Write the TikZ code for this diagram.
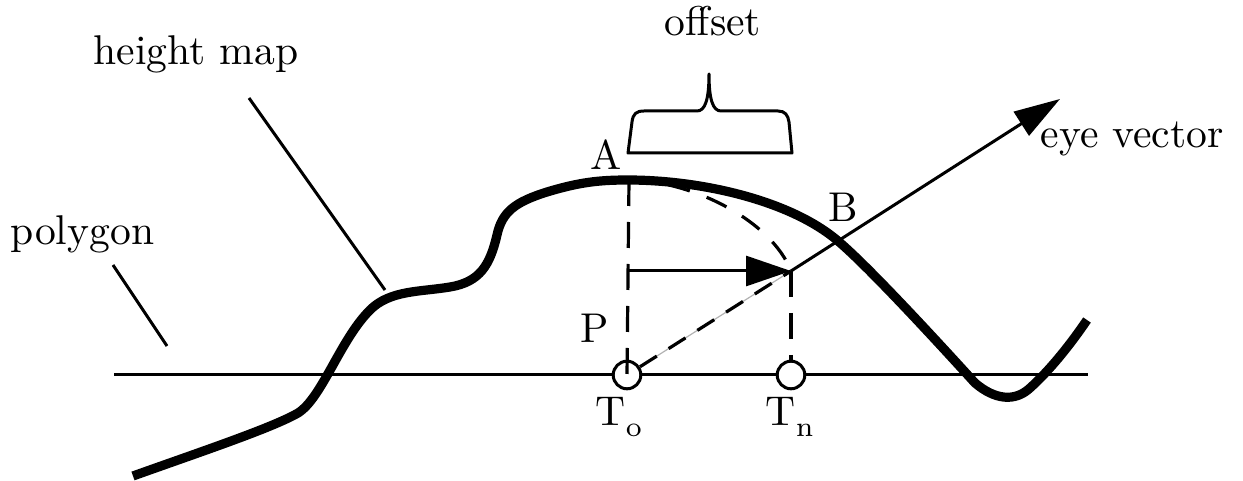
\documentclass[tikz,border=0pt]{standalone}
\usetikzlibrary{arrows.meta}
\begin{document}
\begin{tikzpicture}[x=0.25pt,y=-0.25pt,
  thin line/.style={line width=0.75pt},
  dashline/.style={line width=0.8pt, dash pattern=on 6.5pt off 4pt},
  curvedash/.style={line width=0.8pt, dash pattern=on 5.5pt off 4.5pt},
  heightmap/.style={line width=2.3pt},
  pt circle/.style={circle, draw, fill=white, line width=0.75pt, inner sep=0pt, minimum size=6.9pt},
  lbl/.style={inner sep=0pt, font=\fontsize{10.4}{12}\selectfont},
  bigtip/.style={-{Triangle[length=11.5pt,width=7pt]}}
]
\useasboundingbox (0,0) rectangle (1243,481);

% coordinates
\coordinate (L0) at (114,375);
\coordinate (L1) at (1088,375);
\coordinate (A) at (629,180);
\coordinate (Q) at (791,271);
\coordinate (H0) at (629,271);
\coordinate (Eye) at (1060,99);
\coordinate (hmA) at (249,98);
\coordinate (hmB) at (385,290);
\coordinate (pgA) at (113,265);
\coordinate (pgB) at (167,346);

% polygon base line
\draw[thin line] (L0) -- (L1);

% texel circles
\node[pt circle] (To) at (627,375) {};
\node[pt circle] (Tn) at (791,375) {};

% dashed verticals
\draw[dashline] (A) -- (To.center);
\draw[dashline] (Q) -- (Tn.north);

% dashed arc A -> Q
\draw[curvedash] (A) .. controls (695,181) and (772,222) .. (Q);

% height map curve
\draw[heightmap] (133,476) .. controls (200,452) and (272,428) .. (298,413)
  .. controls (322,398) and (340,340) .. (370,310)
  .. controls (390,290) and (420,292) .. (450,287)
  .. controls (480,282) and (490,265) .. (497,235)
  .. controls (502,212) and (515,202) .. (547,192)
  .. controls (580,182) and (600,180) .. (628,180)
  .. controls (700,180) and (790,200) .. (838,241)
  .. controls (870,268) and (945,350) .. (975,383)
  .. controls (995,400) and (1015,402) .. (1030,388)
  .. controls (1050,370) and (1070,345) .. (1087,320);

% eye vector
\draw[gray!60, line width=0.3pt] (To) -- (Q);
\draw[line width=0.8pt, dash pattern=on 5pt off 3.5pt] (To) -- (Q);
\draw[thin line, bigtip] (Q) -- (Eye);

% offset arrow
\draw[thin line, -{Triangle[length=11.25pt,width=7.5pt]}] (H0) -- (Q);

% brace
\draw[thin line, line join=round] (628,153) -- (632,122) .. controls (633,114) and (636,111) .. (644,111)
  -- (697,111) .. controls (705,111) and (709,100) .. (709,74)
  .. controls (709,100) and (713,111) .. (721,111)
  -- (778,111) .. controls (785,111) and (788,115) .. (789,122) -- (792,153) -- cycle;

% pointer lines
\draw[thin line] (hmA) -- (hmB);
\draw[thin line] (pgA) -- (pgB);

% labels
\node[lbl, anchor=base] (offset) at (713,36) {offset};
\node[lbl, anchor=base west] (hm) at (93,65) {height map};
\node[lbl, anchor=base west] (pg) at (10,245) {polygon};
\node[lbl, anchor=base west] (ev) at (1040,148) {eye vector};
\node[lbl, anchor=base west] (lA) at (590,170) {A};
\node[lbl, anchor=base west] (lB) at (828,222) {B};
\node[lbl, anchor=base west] (lP) at (580,342) {P};
\node[lbl, anchor=base west] (lTo) at (595,426) {T\raisebox{-2.6pt}{\fontsize{7}{8}\selectfont o}};
\node[lbl, anchor=base west] (lTn) at (765,426) {T\raisebox{-2.6pt}{\fontsize{7}{8}\selectfont n}};
\end{tikzpicture}
\end{document}
